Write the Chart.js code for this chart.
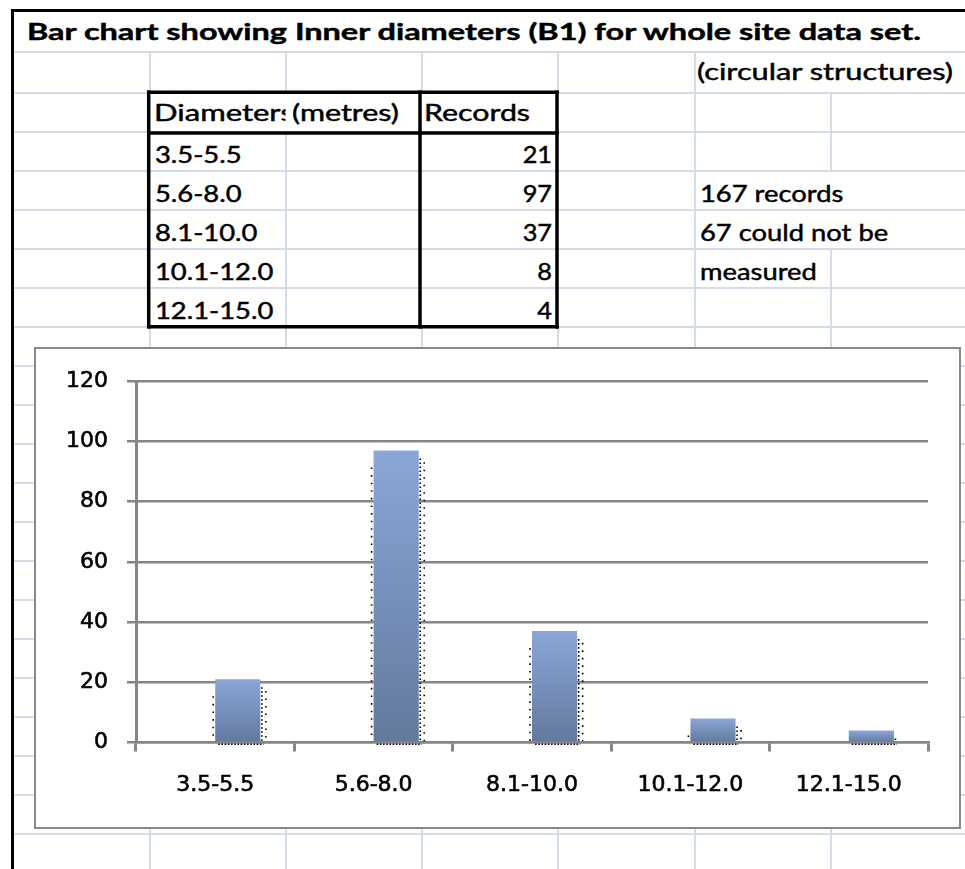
<!DOCTYPE html>
<html>
<head>
<meta charset="utf-8">
<title>Inner diameters (B1)</title>
<script src="https://cdn.jsdelivr.net/npm/chart.js@4.4.1/dist/chart.umd.min.js"></script>
<style>
  html, body { margin: 0; padding: 0; background: #fff; }
  body { width: 965px; height: 869px; position: relative; overflow: hidden; }
  #sheet { position: absolute; left: 0; top: 0; }
  #sheet text { font-family: Lato, 'Liberation Sans', sans-serif; fill: #000; stroke: #000; stroke-width: 0.45; }
  #chartBox { position: absolute; left: 34px; top: 347px; width: 927px; height: 482px;
              box-sizing: border-box; border: 2px solid #898989; background: #fff; }
  #chartBox canvas { display: block; }
</style>
</head>
<body>
<svg id="sheet" width="965" height="869" xmlns="http://www.w3.org/2000/svg"></svg>
<div id="chartBox"><canvas id="diameterChart" width="923" height="478"></canvas></div>
<script>
const categories = ['3.5-5.5', '5.6-8.0', '8.1-10.0', '10.1-12.0', '12.1-15.0'];
const records = [21, 97, 37, 8, 4];
const emptySeries = [null, null, null, null, null];
const yTicks = [0, 20, 40, 60, 80, 100, 120];
const notes = ['167 records', '67 could not be', 'measured'];

const titleText = 'Bar chart showing Inner diameters (B1) for whole site data set.';
const axisGrey = '#868686';
const gridBlue = '#d4dbe9';

// --- spreadsheet background (svg) ---
const svg = document.getElementById('sheet');
const NS = 'http://www.w3.org/2000/svg';

function line(x1, y1, x2, y2, color, w) {
    const l = document.createElementNS(NS, 'line');
    l.setAttribute('x1', x1); l.setAttribute('y1', y1);
    l.setAttribute('x2', x2); l.setAttribute('y2', y2);
    l.setAttribute('stroke', color); l.setAttribute('stroke-width', w);
    svg.appendChild(l);
}

function text(str, x, y, opts) {
    opts = opts || {};
    const t = document.createElementNS(NS, 'text');
    t.textContent = str;
    t.setAttribute('x', x); t.setAttribute('y', y);
    t.setAttribute('font-size', opts.size || 23);
    if (opts.bold) t.setAttribute('font-weight', 'bold');
    if (opts.anchor) t.setAttribute('text-anchor', opts.anchor);
    if (opts.len) {
        t.setAttribute('textLength', opts.len);
        t.setAttribute('lengthAdjust', 'spacingAndGlyphs');
    }
    if (opts.sx) t.setAttribute('transform', `matrix(${opts.sx},0,0,1,${x * (1 - opts.sx)},0)`);
    if (opts.clip) t.setAttribute('clip-path', `url(#${opts.clip})`);
    svg.appendChild(t);
    return t;
}

// clip for the cut-off "Diameters" cell
const defs = document.createElementNS(NS, 'defs');
defs.innerHTML = '<clipPath id="cellB"><rect x="150" y="93" width="135.5" height="40"/></clipPath>';
svg.appendChild(defs);

// horizontal cell lines
const rowLines = [52];
for (let k = 0; k < 20; k++) rowLines.push(93 + 39 * k);
rowLines.forEach(y => line(14, y, 965, y, gridBlue, 2));

// vertical cell lines (skipped where text runs over)
[[150, 52, 93], [150, 327, 869], [286, 52, 93], [286, 132, 869],
 [422, 52, 93], [422, 327, 869], [558, 52, 93], [558, 327, 869],
 [695, 52, 869], [831, 93, 171], [831, 249, 869]].forEach(s => line(s[0], s[1], s[0], s[2], gridBlue, 2));

// outer frame
line(12.5, 9, 12.5, 869, '#000', 3);
line(11, 10.5, 965, 10.5, '#000', 3);

// table borders
line(147, 92.3, 558.7, 92.3, '#000', 3.5);
line(147, 133, 558.7, 133, '#000', 3.5);
line(147, 326.8, 558.7, 326.8, '#000', 3.5);
line(148.7, 90.5, 148.7, 328.6, '#000', 3.5);
line(420, 90.5, 420, 328.6, '#000', 3.5);
line(557, 90.5, 557, 328.6, '#000', 3.5);

// texts
text(titleText, 27, 40, { bold: true, size: 23, len: 894 });
text('(circular structures)', 697, 80, { len: 256 });
text('Diameters', 154, 121, { len: 140, clip: 'cellB' });
text('(metres)', 292, 121, { len: 107 });
text('Records', 424, 121, { len: 106 });

categories.forEach((c, i) => {
    const base = 163 + 39 * i;
    text(c, 155, base, { sx: 1.19 });
    text(String(records[i]), 552, base, { anchor: 'end', sx: 1.1 });
});
notes.forEach((n, i) => text(n, 700, 202 + 39 * i, { sx: 1.19 }));

// --- chart ---
function barFill(context) {
    if (context.type !== 'data') return '#7890bb';
    const chart = context.chart;
    const y = chart.scales.y;
    const top = y.getPixelForValue(context.raw);
    const base = y.getPixelForValue(0);
    if (!isFinite(top) || !isFinite(base)) return '#7890bb';
    const g = chart.ctx.createLinearGradient(0, top, 0, base);
    g.addColorStop(0, '#8aa7d7');
    g.addColorStop(1, '#63799d');
    return g;
}

// dotted shadow outline Excel left around the bars
const shadowDots = {
    id: 'shadowDots',
    afterDatasetsDraw(chart) {
        const ctx = chart.ctx;
        const meta = chart.getDatasetMeta(1);
        ctx.save();
        ctx.strokeStyle = '#000';
        ctx.lineWidth = 1.6;
        const seg = (x1, y1, x2, y2, dash, off) => {
            ctx.setLineDash(dash);
            ctx.lineDashOffset = off || 0;
            ctx.beginPath();
            ctx.moveTo(x1, y1);
            ctx.lineTo(x2, y2);
            ctx.stroke();
        };
        meta.data.forEach(bar => {
            const p = bar.getProps(['x', 'y', 'base', 'width'], true);
            const l = p.x - p.width / 2, r = p.x + p.width / 2;
            if (p.base - p.y > 17) seg(l - 2, p.y + 17, l - 2, p.base, [1.6, 6]);
            if (p.base - p.y > 8) {
                seg(r + 1.5, p.y + 8, r + 1.5, p.base, [1.6, 2.4]);
                seg(r + 5.5, p.y + 8, r + 5.5, p.base, [1.6, 5.9], 3.8);
            }
            seg(l + 3, p.base + 3, r + 3, p.base + 3, [1.6, 1.6]);
        });
        ctx.restore();
    }
};

const tickFont = { family: "'DejaVu Sans', Verdana, sans-serif", size: 22 };
const tickStyle = { color: '#000', font: tickFont, textStrokeColor: '#000', textStrokeWidth: 0.6 };

new Chart(document.getElementById('diameterChart'), {
    type: 'bar',
    data: {
        labels: categories,
        datasets: [
            { label: 'Series 1', data: emptySeries, backgroundColor: 'rgba(0,0,0,0)' },
            { label: 'Records', data: records, backgroundColor: barFill, borderWidth: 0 }
        ]
    },
    options: {
        responsive: false,
        animation: false,
        devicePixelRatio: 1,
        datasets: { bar: { categoryPercentage: 0.57, barPercentage: 1 } },
        layout: { padding: { top: 25.4, right: 31, bottom: 0, left: 0 } },
        plugins: { legend: { display: false }, tooltip: { enabled: false } },
        scales: {
            x: {
                grid: { drawOnChartArea: false, drawTicks: true, tickLength: 9, lineWidth: 3, color: axisGrey, offset: true },
                border: { display: true, color: axisGrey, width: 2.5 },
                ticks: { ...tickStyle, padding: 21, maxRotation: 0, autoSkip: false },
                afterFit(scale) { scale.height = 84.5; }
            },
            y: {
                min: yTicks[0],
                max: yTicks[yTicks.length - 1],
                afterBuildTicks(scale) { scale.ticks = yTicks.map(v => ({ value: v })); },
                grid: { color: axisGrey, lineWidth: 2.5, tickLength: 9, drawTicks: true },
                border: { color: axisGrey, width: 3 },
                ticks: { ...tickStyle, padding: 19 },
                afterFit(scale) { scale.width = 100; }
            }
        }
    },
    plugins: [shadowDots]
});
</script>
</body>
</html>
